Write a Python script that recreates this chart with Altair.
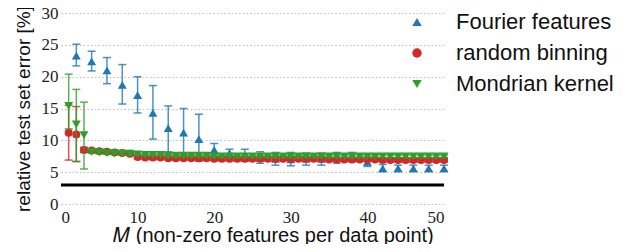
import altair as alt
import pandas as pd

methods = ["Fourier features", "random binning", "Mondrian kernel"]
colors = ["#1f77b4", "#d62728", "#2ca02c"]
shapes = ["triangle-up", "circle", "triangle-down"]

# Fourier features (even M)
ff_M = list(range(2, 51, 2))
ff_val = [23.3, 22.4, 21.0, 18.7, 17.1, 14.3, 11.9, 11.2, 10.2, 8.5, 8.0, 7.6, 7.3,
          7.1, 7.0, 7.1, 7.1, 7.3, 7.4, 6.6, 5.6, 5.6, 5.6, 5.6, 5.6]
ff_lo = [21.7, 20.9, 18.9, 15.7, 14.3, 10.2, 8.2, 7.8, 6.7, 7.5, 7.3, 6.7, 6.4,
         6.1, 6.0, 6.1, 6.1, 6.4, 6.6, 5.9, 5.1, 5.1, 5.1, 5.1, 5.1]
ff_hi = [25.1, 24.0, 23.0, 21.9, 20.0, 18.6, 15.4, 15.0, 14.1, 9.5, 8.6, 8.6, 8.2,
         8.1, 8.1, 8.0, 8.0, 8.1, 8.1, 7.3, 6.2, 6.1, 6.1, 6.1, 6.1]

# random binning (M = 1..50)
rb_M = list(range(1, 51))
rb_val = [11.2, 10.9, 8.5, 8.4, 8.3, 8.2, 8.1, 8.0, 7.9, 7.4,
          7.3, 7.3, 7.3, 7.2, 7.2, 7.2, 7.2, 7.2, 7.2, 7.1,
          7.1, 7.1, 7.1, 7.1, 7.1, 7.1, 7.1, 7.1, 7.1, 7.1,
          7.1, 7.1, 7.1, 7.1, 7.0, 7.0, 7.0, 7.0, 7.0, 7.0,
          7.0, 6.9, 6.9, 6.9, 6.9, 6.9, 6.9, 6.9, 6.9, 6.9]
rb_err = [None, None, 0.4, 0.3, 0.3, 0.3, 0.3, 0.3, 0.3, 0.3] + [0.3] * 40
rb_lo = [6.9, 6.65] + [v - e for v, e in zip(rb_val[2:], rb_err[2:])]
rb_hi = [15.5, 15.3] + [v + e for v, e in zip(rb_val[2:], rb_err[2:])]

# Mondrian kernel (M = 1..50)
mk_M = list(range(1, 51))
mk_val = [15.4, 12.5, 10.8, 8.2, 8.1, 8.0, 8.0, 7.9, 7.9, 7.8,
          7.7, 7.7, 7.7, 7.6, 7.6, 7.6, 7.6, 7.6, 7.6, 7.5,
          7.5, 7.5, 7.5, 7.5, 7.5, 7.5, 7.5, 7.5, 7.5, 7.5,
          7.5, 7.5, 7.5, 7.5, 7.5, 7.5, 7.5, 7.5, 7.5, 7.5,
          7.5, 7.5, 7.5, 7.5, 7.5, 7.5, 7.5, 7.5, 7.5, 7.5]
mk_lo = [11.8, 6.7, 5.5] + [v - 0.2 for v in mk_val[3:]]
mk_hi = [20.4, 18.0, 16.0] + [v + 0.2 for v in mk_val[3:]]

baseline = [3.0]
y_ticks = [0, 5, 10, 15, 20, 25, 30]
x_ticks = [0, 10, 20, 30, 40, 50]

rows = []
for name, Ms, vals, los, his in [
    (methods[0], ff_M, ff_val, ff_lo, ff_hi),
    (methods[1], rb_M, rb_val, rb_lo, rb_hi),
    (methods[2], mk_M, mk_val, mk_lo, mk_hi),
]:
    for m, v, lo, hi in zip(Ms, vals, los, his):
        rows.append({"method": name, "M": m, "val": v, "lo": lo, "hi": hi})
df = pd.DataFrame(rows)

xs = alt.Scale(domain=[0, 50], nice=False, zero=False)
ys = alt.Scale(domain=[0, 30], nice=False)
tick_font = "Liberation Serif"

x_axis = alt.Axis(
    values=x_ticks, grid=False, domain=False, ticks=False, labelOverlap=False,
    labelFont=tick_font, labelFontSize=17, labelColor="#222", labelPadding=5,
    title="\U0001D440 (non-zero features per data point)",
    titleFont="Liberation Sans", titleFontSize=20, titleFontWeight="normal",
    titleColor="#111", titlePadding=0, titleX=212, titleAlign="center")
y_axis = alt.Axis(
    values=y_ticks, tickCount=7, grid=True, gridDash=[1.5, 2.2], gridColor="#bbbbbb",
    gridWidth=1.2, domain=False, ticks=False, labelOverlap=False,
    labelFont=tick_font, labelFontSize=17, labelColor="#222", labelPadding=3,
    title="relative test set error [%]", titleFont="Liberation Sans",
    titleFontSize=19, titleFontWeight="normal", titleColor="#111", titlePadding=8)

x_enc = alt.X("M:Q", scale=xs, axis=x_axis)

def yq(field):
    return alt.Y(field, type="quantitative", scale=ys, axis=y_axis)

base = alt.Chart(df)
color_scale = alt.Scale(domain=methods, range=colors)
shape_scale = alt.Scale(domain=methods, range=shapes)

layers = []
layers.append(
    alt.Chart(pd.DataFrame({"b": baseline})).mark_rule(color="black", strokeWidth=3).encode(
        y=yq("b")
    )
)
for i, name in enumerate(methods):
    sub = base.transform_filter(alt.datum.method == name)
    layers.append(sub.mark_rule(color=colors[i], strokeWidth=1.5, opacity=0.8).encode(
        x=x_enc, y=yq("lo"), y2="hi:Q"))
    layers.append(sub.mark_tick(color=colors[i], thickness=1.5, size=8, opacity=0.8,
                                orient="horizontal").encode(
        x=x_enc, y=yq("lo")))
    layers.append(sub.mark_tick(color=colors[i], thickness=1.5, size=8, opacity=0.8,
                                orient="horizontal").encode(
        x=x_enc, y=yq("hi")))
    layers.append(sub.mark_point(filled=True, opacity=1, size=80 if i != 1 else 64).encode(
        x=x_enc, y=yq("val"),
        color=alt.Color("method:N", scale=color_scale, legend=alt.Legend(
            title=None, orient="none", legendX=345, legendY=-2,
            labelFont="Liberation Sans", labelFontSize=22, labelColor="#111",
            labelOffset=28, rowPadding=9, symbolSize=90, symbolOpacity=1)),
        shape=alt.Shape("method:N", scale=shape_scale),
    ))

chart = alt.layer(*layers).properties(
    width=383, height=191,
    autosize=alt.AutoSizeParams(type="none"),
    padding={"left": 53, "top": 5, "right": 177, "bottom": 40},
).configure_view(stroke=None).configure_axis(labelFontWeight="normal")

chart.save("out.html", embed_options={"renderer": "svg", "actions": False})
